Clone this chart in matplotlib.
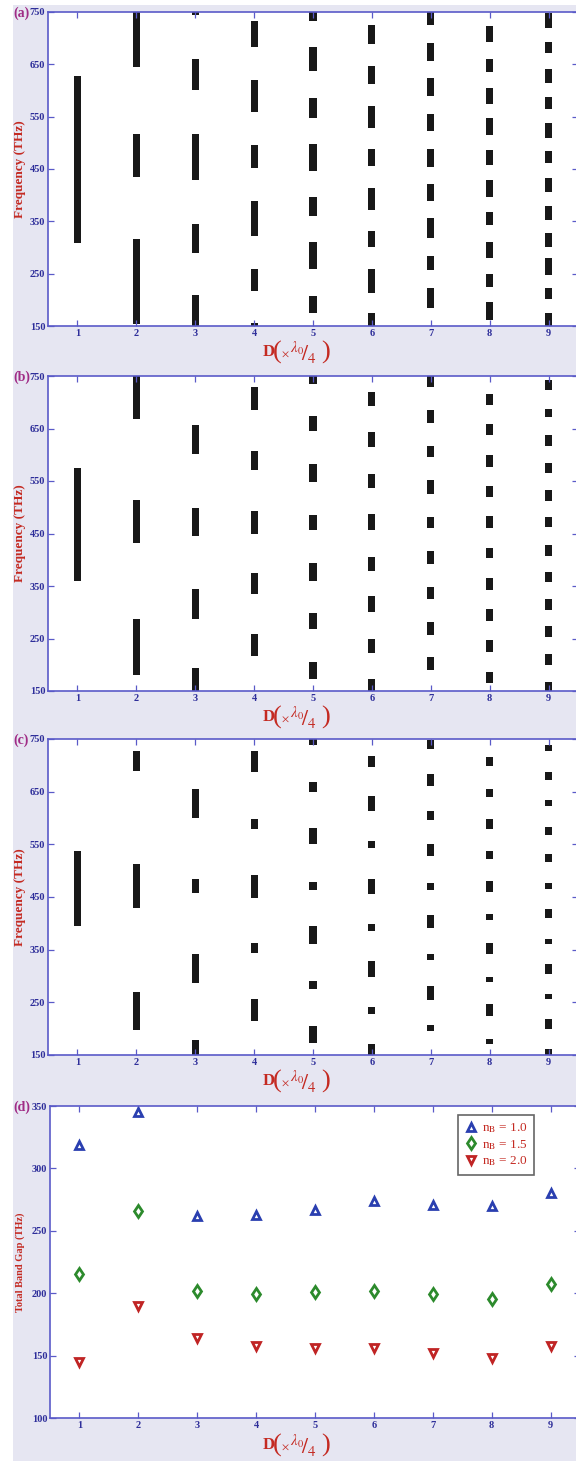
import matplotlib
matplotlib.use('Agg')
import matplotlib.pyplot as plt
from matplotlib.patches import Rectangle

plt.rcParams['font.family'] = 'serif'
plt.rcParams['font.serif'] = ['Liberation Serif', 'DejaVu Serif']
plt.rcParams['mathtext.fontset'] = 'stix'

W, H = 576, 1461

# D in units of lambda0/4
d_values = [1, 2, 3, 4, 5, 6, 7, 8, 9]

# band gaps (THz) per D value, panel (a)
gaps_a = [
    [(309, 628)],
    [(154, 316), (435, 516), (644, 750)],
    [(150, 210), (290, 344), (429, 516), (601, 660), (745, 750)],
    [(150, 155), (217, 259), (322, 389), (451, 495), (558, 621), (684, 732)],
    [(174, 208), (258, 311), (360, 397), (447, 498), (548, 586), (637, 683), (733, 750)],
    [(150, 174), (214, 259), (300, 331), (372, 414), (456, 488), (529, 570), (612, 646), (688, 726)],
    [(184, 223), (257, 284), (319, 356), (389, 421), (454, 489), (523, 556), (589, 623), (657, 690), (725, 750)],
    [(161, 196), (225, 249), (279, 311), (343, 367), (397, 429), (458, 486), (515, 547), (575, 605), (635, 661), (692, 723)],
    [(150, 174), (201, 222), (247, 279), (300, 327), (352, 380), (407, 432), (461, 484), (510, 537), (564, 588), (615, 642), (671, 692), (719, 749)],
]

# panel (b)
gaps_b = [
    [(359, 574)],
    [(181, 287), (432, 514), (669, 750)],
    [(150, 193), (288, 344), (446, 498), (601, 657)],
    [(217, 258), (334, 374), (450, 493), (571, 607), (685, 729)],
    [(173, 206), (268, 299), (360, 394), (456, 486), (548, 582), (645, 674), (735, 750)],
    [(150, 172), (223, 250), (300, 331), (379, 406), (456, 487), (537, 563), (614, 643), (693, 720)],
    [(190, 214), (256, 282), (325, 349), (391, 416), (460, 482), (526, 552), (595, 617), (661, 686), (729, 750)],
    [(166, 187), (225, 247), (284, 306), (342, 365), (403, 422), (460, 483), (520, 541), (577, 600), (637, 658), (695, 716)],
    [(150, 167), (200, 220), (252, 273), (304, 325), (357, 377), (408, 429), (463, 481), (512, 533), (566, 585), (617, 637), (671, 688), (724, 743)],
]

# panel (c)
gaps_c = [
    [(394, 538)],
    [(197, 269), (430, 513), (689, 727)],
    [(150, 179), (287, 341), (458, 484), (600, 656)],
    [(214, 256), (343, 363), (449, 492), (579, 598), (687, 727)],
    [(172, 205), (275, 290), (360, 394), (463, 479), (550, 581), (650, 668), (738, 750)],
    [(150, 170), (227, 242), (299, 328), (385, 399), (456, 485), (543, 557), (614, 641), (697, 717)],
    [(195, 207), (255, 281), (330, 342), (392, 416), (463, 477), (527, 550), (597, 614), (661, 683), (731, 749)],
    [(170, 181), (224, 246), (288, 299), (342, 363), (407, 418), (460, 481), (522, 538), (579, 598), (640, 656), (698, 715)],
    [(150, 161), (199, 219), (256, 265), (303, 323), (360, 370), (410, 427), (465, 476), (516, 531), (568, 582), (622, 635), (673, 687), (727, 739)],
]

# panel (d): total band gap (THz)
total_nb10 = [319, 345, 262, 263, 267, 274, 271, 270, 280]
total_nb15 = [215, 266, 202, 199, 201, 202, 199, 195, 207]
total_nb20 = [145, 190, 164, 158, 156, 156, 152, 148, 158]

BG = '#e6e6f2'
SPINE = '#5a5ac8'
TICKC = '#2e2e9a'
RED = '#c42a22'
PURPLE = '#a02c86'

fig = plt.figure(figsize=(W / 100, H / 100), dpi=100, facecolor=BG)
# white margin on the left and top
fig.patches.append(Rectangle((0, 0), 13 / W, 1, transform=fig.transFigure,
                             facecolor='white', edgecolor='none', zorder=-1))
fig.patches.append(Rectangle((0, 1 - 5 / H), 1, 5 / H, transform=fig.transFigure,
                             facecolor='white', edgecolor='none', zorder=-1))


def px_axes(left, top, right, bottom):
    return fig.add_axes([left / W, 1 - bottom / H, (right - left) / W, (bottom - top) / H])


def style(ax):
    for s in ax.spines.values():
        s.set_color(SPINE)
        s.set_linewidth(1.2)
    ax.tick_params(direction='in', length=4, width=0.9, color=SPINE,
                   top=True, right=True, labelsize=7.5, labelcolor=TICKC, pad=2)
    for lab in ax.get_xticklabels() + ax.get_yticklabels():
        lab.set_fontweight('bold')
    ax.set_xlim(0.5, 9.5)
    ax.set_xticks(d_values)


def d_label(yc):
    # "D ( x lambda0/4 )" with tall brackets, centred at pixel row yc
    y = 1 - yc / H
    fig.text(263 / W, y, 'D', ha='left', va='center', color=RED,
             fontsize=12, fontweight='bold')
    fig.text(273 / W, y, '(', ha='left', va='center', color=RED, fontsize=19)
    fig.text(281 / W, y - 2 / H, r'$\times$', ha='left', va='center', color=RED, fontsize=8)
    fig.text(290 / W, y - 1 / H, r'${}^{\lambda_0}\!/_{4}$', ha='left', va='center',
             color=RED, fontsize=15.5)
    fig.text(321 / W, y, ')', ha='left', va='center', color=RED, fontsize=19)


panels = [('(a)', gaps_a, 12, 326), ('(b)', gaps_b, 376, 691), ('(c)', gaps_c, 739, 1055)]
for letter, gaps, top, bottom in panels:
    ax = px_axes(48, top, 578, bottom)
    for i, d in enumerate(d_values):
        lows = [g[0] for g in gaps[i]]
        highs = [g[1] for g in gaps[i]]
        ax.bar([d] * len(lows), [h - l for l, h in zip(lows, highs)], bottom=lows,
               width=0.12, color='#181818', edgecolor='none')
    ax.set_ylim(150, 750)
    ax.set_yticks([150, 250, 350, 450, 550, 650, 750])
    style(ax)
    fig.text(20 / W, 1 - (top + bottom) / 2 / H, 'Frequency (THz)', rotation=90,
             ha='center', va='center', color=RED, fontsize=9.5, fontweight='bold')
    fig.text(13 / W, 1 - (top + 1) / H, letter, ha='left', va='center',
             color=PURPLE, fontsize=10, fontweight='bold')
    d_label(bottom + 26)

# panel (d)
ax = px_axes(50, 1106, 580, 1418)
ax.plot(d_values, total_nb10, linestyle='none', marker='^', markersize=6,
        markerfacecolor='white', markeredgecolor='#2a3fb0', markeredgewidth=2,
        label=r'n$_\mathrm{B}$ = 1.0')
ax.plot(d_values, total_nb15, linestyle='none', marker='d', markersize=6,
        markerfacecolor='white', markeredgecolor='#2c8a2c', markeredgewidth=2,
        label=r'n$_\mathrm{B}$ = 1.5')
ax.plot(d_values, total_nb20, linestyle='none', marker='v', markersize=6,
        markerfacecolor='white', markeredgecolor='#c02424', markeredgewidth=2,
        label=r'n$_\mathrm{B}$ = 2.0')
ax.set_ylim(100, 350)
ax.set_yticks([100, 150, 200, 250, 300, 350])
style(ax)
leg = ax.legend(loc='upper left', bbox_to_anchor=(458 / W, 1 - 1115 / H),
                bbox_transform=fig.transFigure, borderaxespad=0, fancybox=False,
                edgecolor='#666666', framealpha=1, fontsize=9.5, handletextpad=0.3,
                handlelength=1.0, labelspacing=0.2, borderpad=0.5)
for t in leg.get_texts():
    t.set_color(RED)
leg.get_frame().set_linewidth(1.2)
fig.text(20 / W, 1 - 1262 / H, 'Total Band Gap (THz)', rotation=90,
         ha='center', va='center', color=RED, fontsize=7.5, fontweight='bold')
fig.text(13 / W, 1 - 1107 / H, '(d)', ha='left', va='center',
         color=PURPLE, fontsize=10, fontweight='bold')
d_label(1445)

fig.savefig('out.png', dpi=100, facecolor=BG)
